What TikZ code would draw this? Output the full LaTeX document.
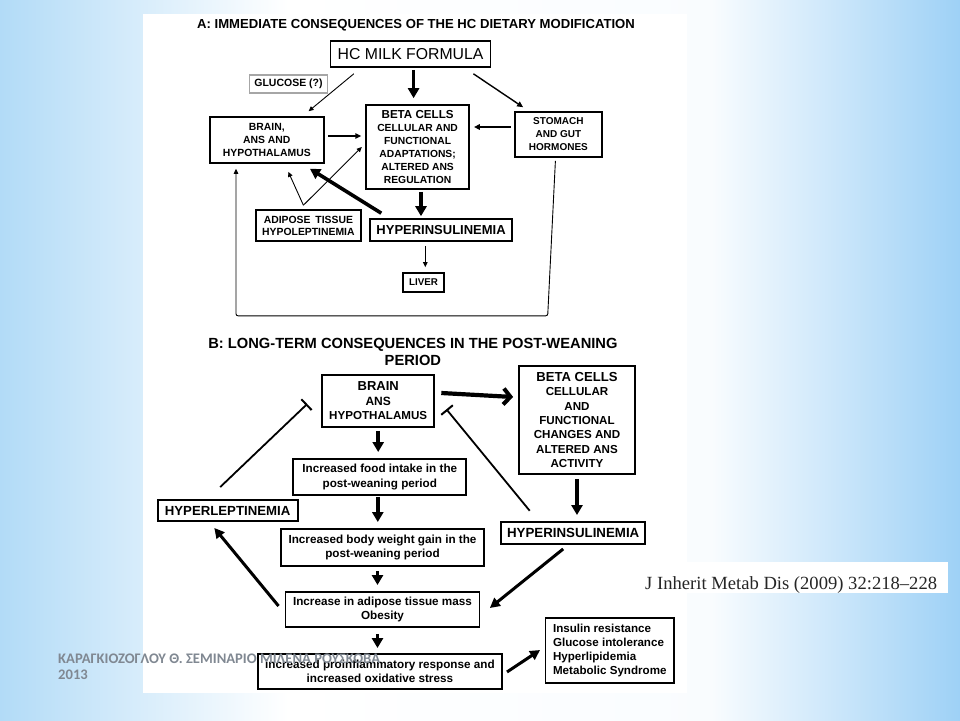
\documentclass[tikz,border=0pt]{standalone}
\usepackage{fontspec}
\setmainfont{Liberation Sans}
\newfontfamily\citefont{Liberation Serif}
\newfontfamily\footfont{Carlito}
\usetikzlibrary{arrows.meta,calc}
\newcommand{\fsz}[2]{\fontsize{#1}{#2}\selectfont}
\definecolor{slideblue}{RGB}{158,209,246}
\definecolor{slideedge}{RGB}{178,219,247}
\definecolor{footgray}{RGB}{128,136,146}
\pgfdeclarehorizontalshading{slidebg}{100bp}{color(0bp)=(slideedge); color(25bp)=(slideedge); color(40bp)=(white); color(62bp)=(white!94!slideblue); color(75bp)=(slideblue); color(100bp)=(slideblue)}
\tikzset{
  boxA/.style={draw, line width=1.6pt, align=center, inner sep=0pt, font=\bfseries},
  boxB/.style={draw, line width=1.9pt, align=center, inner sep=0pt, font=\bfseries},
  thinarr/.style={-{Triangle[length=5pt,width=4.5pt]}, line width=0.9pt},
  midarr/.style={-{Triangle[length=6pt,width=5.5pt]}, line width=1.4pt},
  fatarr/.style={-{Triangle[length=10pt,width=11pt]}, line width=3.6pt},
  diagarr/.style={-{Triangle[length=10pt,width=10pt]}, line width=3pt},
  inhib/.style={-{Bar[width=15pt,line width=2pt]}, line width=1.8pt},
  barbarr/.style={-{Straight Barb[length=7pt,width=16pt,line width=4pt]}, line width=4.2pt},
}
\begin{document}
\begin{tikzpicture}[x=1pt,y=-1pt]
\useasboundingbox (0,0) rectangle (960,720);
% slide background
\shade[shading=slidebg] (0,0) rectangle (960,720);
\fill[white] (143,14) rectangle (687,693);
\fill[white] (687,562) rectangle (948,593);

% A: immediate consequences
\node[font=\bfseries\fsz{13.1}{15}] (titleA) at (416,25) {A: IMMEDIATE CONSEQUENCES OF THE HC DIETARY MODIFICATION};
\node[boxA, font=\fsz{15.8}{18}, minimum width=160pt, minimum height=26pt] (hc) at (410.6,54) {HC MILK FORMULA};
\node[draw=gray!70, line width=1.1pt, inner sep=0pt, font=\bfseries\fsz{10.5}{12}, minimum width=77.5pt, minimum height=18pt] (glucose) at (288.5,84) {GLUCOSE (?)};
\node[boxA, font=\bfseries\fsz{10.4}{12.7}, minimum width=114pt, minimum height=46pt] (brainA) at (266.8,140) {BRAIN,\\ANS AND\\HYPOTHALAMUS};
\node[boxA, font=\bfseries\fsz{10.3}{13}, minimum width=103pt, minimum height=84pt] (betaA) at (417.6,147) {{\fsz{11.6}{13}BETA CELLS}\\CELLULAR AND\\FUNCTIONAL\\ADAPTATIONS;\\ALTERED ANS\\REGULATION};
\node[boxA, font=\bfseries\fsz{10}{13}, minimum width=87pt, minimum height=45pt] (stomach) at (558.4,134.5) {STOMACH\\AND GUT\\HORMONES};
\node[boxA, font=\bfseries\fsz{10.4}{12}, minimum width=104.7pt, minimum height=31pt] (adipose) at (308.4,225.5) {ADIPOSE\hspace{2pt} TISSUE\\HYPOLEPTINEMIA};
\node[boxA, font=\bfseries\fsz{13}{15}, minimum width=142pt, minimum height=22pt] (hyperA) at (441.1,230) {HYPERINSULINEMIA};
\node[boxA, font=\bfseries\fsz{9.8}{11}, minimum width=41pt, minimum height=19pt] (liver) at (423.5,282.5) {LIVER};
\coordinate (apex) at ($(adipose.north)+(-5,-4)$);

\draw[fatarr, shorten <=2pt, shorten >=6pt] ([xshift=3pt]hc.south) -- ([xshift=3pt]hc.south |- betaA.north);
\draw[thinarr] ($(hc.south west)+(24,6)$) -- ($(brainA.north east)+(-16,-5)$);
\draw[midarr] ($(hc.south east)+(-18,6)$) -- ($(stomach.north west)+(9,-4)$);
\draw[midarr, shorten <=3.4pt, shorten >=4pt] ([yshift=4pt]brainA.east) -- ([yshift=4pt]brainA.east -| betaA.west);
\draw[midarr, shorten <=3.4pt, shorten >=4pt] ([yshift=7.5pt]stomach.west) -- ([yshift=7.5pt]stomach.west -| betaA.east);
\draw[thinarr] (apex) -- ($(brainA.south)+(21.5,8)$);
\draw[thinarr] (apex) -- ($(betaA.west)+(-3.5,0)$);
\draw[fatarr] ($(hyperA.north west)+(12,-5)$) -- ($(brainA.south east)+(-14.6,5)$);
\draw[fatarr, shorten <=2pt, shorten >=2pt] ([xshift=3.4pt]betaA.south) -- ([xshift=3.4pt]betaA.south |- hyperA.north);
\draw[thinarr, shorten <=4pt, shorten >=5pt] ([xshift=1.8pt]liver.north |- hyperA.south) -- ([xshift=1.8pt]liver.north);
\draw[thinarr, rounded corners=2pt] ($(stomach.south)+(-3,3)$) -- ($(stomach.south)+(-10.7,158)$) -| ($(brainA.south west)+(27,5)$);

% B: long-term consequences
\node[align=center, font=\bfseries\fsz{14.7}{17}] (titleB) at (412.9,351.5) {B: LONG-TERM CONSEQUENCES IN THE POST-WEANING\\PERIOD};
\node[boxB, font=\bfseries\fsz{11.6}{14.5}, minimum width=112.3pt, minimum height=52pt] (brainB) at (378.2,401) {{\fsz{13}{14.5}BRAIN}\\{\fsz{12}{14.5}ANS}\\HYPOTHALAMUS};
\node[boxB, font=\bfseries\fsz{11.6}{14.3}, minimum width=115.8pt, minimum height=108pt] (betaB) at (577,420) {{\fsz{13.1}{14.3}BETA CELLS}\\CELLULAR\\AND\\FUNCTIONAL\\CHANGES AND\\ALTERED ANS\\ACTIVITY};
\node[boxB, font=\bfseries\fsz{11.7}{14.3}, minimum width=173pt, minimum height=36pt] (food) at (379.8,477) {Increased food intake in the\\post-weaning period};
\node[boxB, font=\bfseries\fsz{13.2}{15}, minimum width=140pt, minimum height=21pt] (hyperlep) at (227.6,510.5) {HYPERLEPTINEMIA};
\node[boxB, font=\bfseries\fsz{11.7}{14.3}, minimum width=202.3pt, minimum height=37pt] (weight) at (382.5,547.5) {Increased body weight gain in the\\post-weaning period};
\node[boxB, font=\bfseries\fsz{13.3}{15}, minimum width=144.3pt, minimum height=22pt] (hyperB) at (573.2,533) {HYPERINSULINEMIA};
\node[boxB, font=\bfseries\fsz{11.7}{14.3}, minimum width=194pt, minimum height=35pt] (mass) at (382.5,609.5) {Increase in adipose tissue mass\\Obesity};
\node[boxB, font=\bfseries\fsz{11.7}{14.3}, minimum width=244.3pt, minimum height=35pt] (inflam) at (379.9,671.5) {increased proinflammatory response and\\increased oxidative stress};
\node[boxB, align=left, font=\bfseries\fsz{11.6}{14.3}, minimum width=128.6pt, minimum height=65pt] (syndrome) at (609.8,650.5) {Insulin resistance\\Glucose intolerance\\Hyperlipidemia\\Metabolic Syndrome};

\draw[barbarr] ($(brainB.east)+(6,-8)$) -- ($(betaB.west)+(-5,-23)$);
\draw[inhib] ($(hyperlep.north)+(-7.4,-12)$) -- ($(brainB.south west)+(-13.9,-24)$);
\draw[inhib] ($(hyperB.north west)+(29.6,-10.3)$) -- ($(brainB.south east)+(11.1,-18.7)$);
\draw[fatarr, shorten <=3pt, shorten >=6pt] (brainB.south) -- (brainB.south |- food.north);
\draw[fatarr, shorten <=1pt, shorten >=6pt] ([xshift=-2pt]food.south) -- ([xshift=-2pt]food.south |- weight.north);
\draw[fatarr, shorten <=4pt, shorten >=6pt] ([xshift=-5pt]weight.south) -- ([xshift=-5pt]weight.south |- mass.north);
\draw[fatarr, shorten <=6pt, shorten >=5pt] ([xshift=-5pt]mass.south) -- ([xshift=-5pt]mass.south |- inflam.north);
\draw[fatarr, shorten <=4pt, shorten >=6pt] (betaB.south) -- (betaB.south |- hyperB.north);
\draw[diagarr] ($(mass.west)+(-6,-3.5)$) -- ($(hyperlep.south)+(-13.3,6)$);
\draw[diagarr] ($(hyperB.south)+(-10,4)$) -- ($(mass.east)+(9.4,-1.5)$);
\draw[diagarr] ($(inflam.east)+(4,0.5)$) -- ($(syndrome.west)+(-4.5,-0.5)$);

% slide texts
\node[font=\citefont\fsz{18.6}{20}, text=black!85, anchor=west, inner sep=0pt] (cite) at (645,585) {J Inherit Metab Dis (2009) 32:218–228};
\node[font=\footfont\bfseries\fsz{14.6}{16}, text=footgray, align=left, anchor=north west, inner sep=0pt] (footer) at (58,654) {ΚΑΡΑΓΚΙΟΖΟΓΛΟΥ Θ. ΣΕΜΙΝΑΡΙΟ ΜΙΛΕΝΑ ΡΟΥΣΚΟΒΑ\\2013};
\end{tikzpicture}
\end{document}
